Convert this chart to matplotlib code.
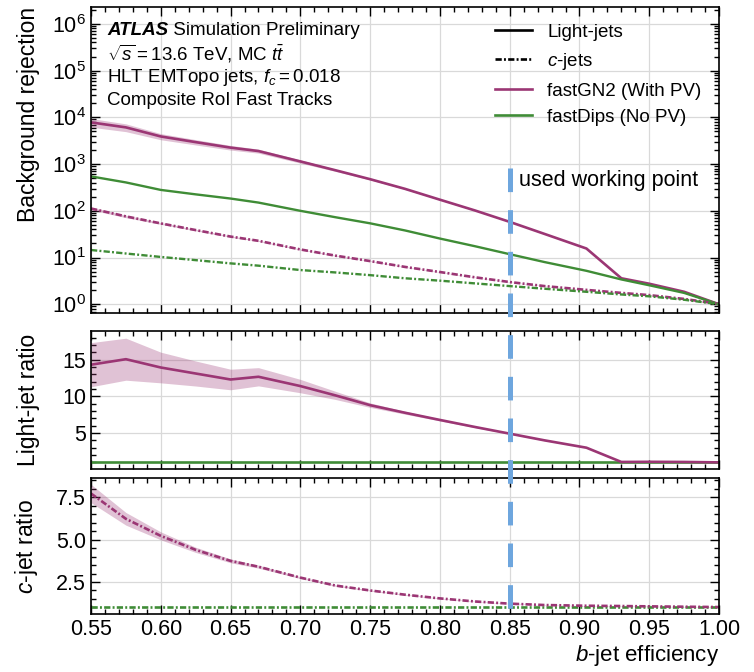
import numpy as np
import matplotlib
matplotlib.use("Agg")
import matplotlib.pyplot as plt
import matplotlib.transforms as mtransforms
from matplotlib.lines import Line2D
from matplotlib.ticker import MultipleLocator, LogLocator, NullFormatter

plt.rcParams["font.family"] = ["Liberation Sans", "DejaVu Sans"]
plt.rcParams["mathtext.fontset"] = "custom"
plt.rcParams["mathtext.rm"] = "Liberation Sans"
plt.rcParams["mathtext.it"] = "Liberation Sans:italic"
plt.rcParams["mathtext.bf"] = "Liberation Sans:bold"
plt.rcParams["lines.scale_dashes"] = False

# b-jet efficiency working points
b_eff = np.array([0.55, 0.575, 0.60, 0.625, 0.65, 0.67, 0.70, 0.725, 0.75, 0.775,
                  0.80, 0.825, 0.85, 0.875, 0.905, 0.93, 0.95, 0.975, 1.0])

# light-jet rejection
gn2_light = np.array([7800, 6100, 3900, 2950, 2250, 1900, 1140, 740, 475, 295,
                      173, 102, 58, 32, 15.6, 3.6, 2.75, 1.85, 1.0])
dips_light = np.array([545, 405, 280, 225, 183, 150, 100, 73, 54, 38,
                       25.5, 17.5, 11.8, 8.0, 5.2, 3.4, 2.55, 1.75, 1.0])
gn2_light_err = np.array([0.21, 0.19, 0.15, 0.13, 0.114, 0.098, 0.08, 0.055, 0.035, 0.025,
                          0.02, 0.016, 0.013, 0.012, 0.012, 0.01, 0.01, 0.01, 0.0])

# c-jet rejection
gn2_c = np.array([112, 76, 53.8, 38.7, 28.1, 22.8, 14.9, 11.0, 8.4, 6.3,
                  4.9, 3.78, 2.99, 2.45, 2.03, 1.75, 1.57, 1.3, 1.02])
dips_c = np.array([14.5, 12.2, 10.3, 8.8, 7.5, 6.7, 5.4, 4.8, 4.2, 3.6,
                   3.2, 2.8, 2.45, 2.15, 1.85, 1.62, 1.48, 1.25, 1.0])
gn2_c_err = np.array([0.07, 0.06, 0.045, 0.035, 0.03, 0.025, 0.02, 0.017, 0.015, 0.013,
                      0.012, 0.011, 0.01, 0.01, 0.01, 0.01, 0.01, 0.01, 0.01])

wp = 0.85

purple = "#9b3674"
green = "#3f8c36"
blue = "#6ea6de"
dashdot = (0, (4.5, 1.6, 1.4, 1.6))

fig = plt.figure(figsize=(7.54, 6.72), dpi=100)
ax = fig.add_axes([0.1207, 0.5342, 0.8329, 0.4554])
ax1 = fig.add_axes([0.1207, 0.3021, 0.8329, 0.2053])
ax2 = fig.add_axes([0.1207, 0.0863, 0.8329, 0.2024])

# main panel
ax.fill_between(b_eff, gn2_light * (1 - gn2_light_err), gn2_light * (1 + gn2_light_err),
                color=purple, alpha=0.3, lw=0)
ax.fill_between(b_eff, gn2_c * (1 - gn2_c_err), gn2_c * (1 + gn2_c_err),
                color=purple, alpha=0.3, lw=0)
ax.plot(b_eff, gn2_light, color=purple, lw=1.9)
ax.plot(b_eff, dips_light, color=green, lw=1.7)
ax.plot(b_eff, gn2_c, color=purple, lw=1.9, ls=dashdot)
ax.plot(b_eff, dips_c, color=green, lw=1.7, ls=dashdot)
ax.set_yscale("log")
ax.set_ylim(0.65, 2.3e6)
ax.yaxis.set_major_locator(LogLocator(base=10, numticks=20))
ax.yaxis.set_minor_locator(LogLocator(base=10, subs=np.arange(2, 10), numticks=100))
ax.yaxis.set_minor_formatter(NullFormatter())
ax.set_ylabel("Background rejection", fontsize=16.5, loc="top")

# light-jet ratio
r_light = gn2_light / dips_light
ax1.fill_between(b_eff, r_light * (1 - gn2_light_err), r_light * (1 + gn2_light_err),
                 color=purple, alpha=0.3, lw=0)
ax1.plot(b_eff, dips_light / dips_light, color=green, lw=1.9)
ax1.plot(b_eff, r_light, color=purple, lw=1.9)
ax1.set_ylim(0.1, 18.9)
ax1.yaxis.set_major_locator(MultipleLocator(5))
ax1.yaxis.set_minor_locator(MultipleLocator(1))
ax1.set_ylabel("Light-jet ratio", fontsize=16.5)

# c-jet ratio
r_c = gn2_c / dips_c
ax2.fill_between(b_eff, r_c * (1 - gn2_c_err), r_c * (1 + gn2_c_err),
                 color=purple, alpha=0.3, lw=0)
ax2.plot(b_eff, dips_c / dips_c, color=green, lw=1.9, ls=dashdot)
ax2.plot(b_eff, r_c, color=purple, lw=1.9, ls=dashdot)
ax2.set_ylim(0.61, 8.64)
ax2.yaxis.set_major_locator(MultipleLocator(2.5))
ax2.yaxis.set_minor_locator(MultipleLocator(0.5))
ax2.set_ylabel("$c$-jet ratio", fontsize=16.5)
ax2.set_xlabel("$b$-jet efficiency", fontsize=16, loc="right", labelpad=2)

for a in (ax, ax1, ax2):
    a.set_xlim(0.55, 1.0)
    a.xaxis.set_major_locator(MultipleLocator(0.05))
    a.xaxis.set_minor_locator(MultipleLocator(0.01))
    a.tick_params(which="both", direction="in", top=True, right=True, labelsize=15.5, width=1)
    a.tick_params(which="major", length=6.5)
    a.tick_params(which="minor", length=3.5)
    a.grid(True, which="major", color="#d9d9d9", lw=0.9)
    a.set_axisbelow(True)
    for s in a.spines.values():
        s.set_linewidth(1.2)
ax.yaxis.set_label_coords(-0.082, 1.0)
ax1.yaxis.set_label_coords(-0.082, 0.5)
ax2.yaxis.set_label_coords(-0.082, 0.5)
ax.tick_params(labelbottom=False)
ax1.tick_params(labelbottom=False)

# ATLAS label
fs = 13.5
t = ax.text(0.026, 0.922, "ATLAS", transform=ax.transAxes, fontsize=fs,
            fontweight="bold", fontstyle="italic", va="center")
ax.annotate(" Simulation Preliminary", xy=(1, 0), xycoords=t, fontsize=fs, va="bottom")
info = [r"$\sqrt{s} = 13.6$ TeV, MC $t\bar{t}$",
        r"HLT EMTopo jets, $f_c = 0.018$",
        "Composite RoI Fast Tracks"]
for i, line in enumerate(info):
    ax.text(0.026, 0.922 - (i + 1) * 0.0755, line, transform=ax.transAxes,
            fontsize=fs, va="center")

# legends
style_handles = [Line2D([], [], color="k", lw=1.9),
                 Line2D([], [], color="k", lw=1.9, ls=dashdot)]
leg1 = ax.legend(style_handles, ["Light-jets", "$c$-jets"], loc="upper left",
                 bbox_to_anchor=(0.643, 0.946), frameon=False, fontsize=fs,
                 borderpad=0, borderaxespad=0, handlelength=2.0, handletextpad=0.8,
                 labelspacing=0.55)
ax.add_artist(leg1)
tagger_handles = [Line2D([], [], color=purple, lw=1.9),
                  Line2D([], [], color=green, lw=1.9)]
ax.legend(tagger_handles, ["fastGN2 (With PV)", "fastDips (No PV)"], loc="upper left",
          bbox_to_anchor=(0.643, 0.752), frameon=False, fontsize=fs,
          borderpad=0, borderaxespad=0, handlelength=2.0, handletextpad=0.8,
          labelspacing=0.45)

# working point line across all panels
trans = mtransforms.blended_transform_factory(ax.transData, fig.transFigure)
fig.add_artist(Line2D([wp, wp], [0.75, 0.0863], transform=trans, color=blue,
                      lw=3.6, ls=(0, (17, 13)), zorder=5))
ax.text(wp + 0.0067, 0.434, "used working point", fontsize=15.5, va="center",
        transform=mtransforms.blended_transform_factory(ax.transData, ax.transAxes))

fig.savefig("out.png", dpi=100)
